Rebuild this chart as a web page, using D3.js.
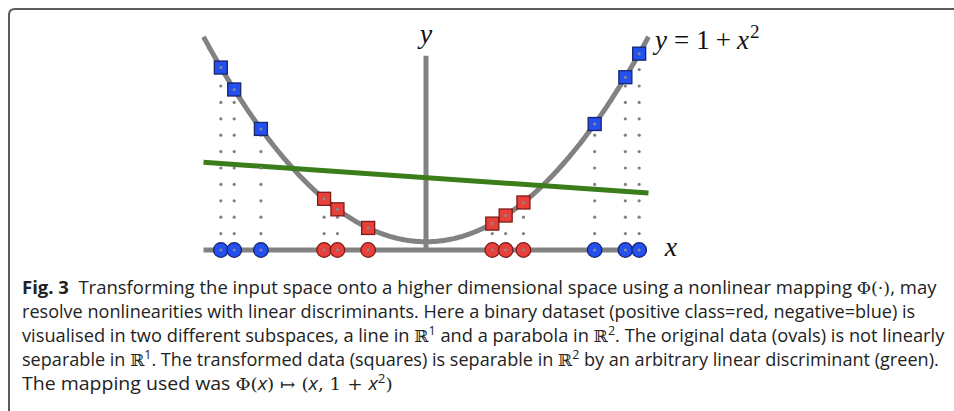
<!DOCTYPE html>
<html>
<head>
<meta charset="utf-8">
<script src="https://cdn.jsdelivr.net/npm/d3@7"></script>
<style>
  html, body { margin: 0; padding: 0; background: #fff; }
  svg { display: block; }
</style>
</head>
<body>
<svg id="fig" width="954" height="411"></svg>
<script>
// data
const negX = [-4.61, -4.31, -3.71, 3.79, 4.48, 4.79];   // blue, negative class
const posX = [-2.29, -1.99, -1.30, 1.49, 1.79, 2.19];   // red, positive class
const greenX = [-5, 5];
const greenY = [10.7, 6.95];
const dotStep = 2;   // spacing of the dotted projection lines, in y units

const captionLines = [
  [{ t: 'Fig. 3', b: true }, { t: 'Transforming the input space onto a higher dimensional space using a nonlinear mapping ', dx: 9 }, { t: 'Φ(·)', m: true }, { t: ', may' }],
  [{ t: 'resolve nonlinearities with linear discriminants. Here a binary dataset (positive class=red, negative=blue) is' }],
  [{ t: 'visualised in two different subspaces, a line in ' }, { t: 'ℝ', m: true }, { t: '1', sup: true }, { t: ' and a parabola in ' }, { t: 'ℝ', m: true }, { t: '2', sup: true }, { t: '. The original data (ovals) is not linearly' }],
  [{ t: 'separable in ' }, { t: 'ℝ', m: true }, { t: '1', sup: true }, { t: '. The transformed data (squares) is separable in ' }, { t: 'ℝ', m: true }, { t: '2', sup: true }, { t: ' by an arbitrary linear discriminant (green).' }],
  [{ t: 'The mapping used was ' }, { t: 'Φ(', m: true }, { t: 'x', i: true }, { t: ') ↦ (', m: true }, { t: 'x', i: true }, { t: ', 1 + ', m: true }, { t: 'x', i: true }, { t: '2', sup: true }, { t: ')', m: true }]
];
const captionRight = [937, 916, 945, 940, 393];

const svg = d3.select('#fig');
const grey = '#828282';

// frame
svg.append('path')
  .attr('d', 'M9,411 L9,15 Q9,9 15,9 L954,9')
  .attr('fill', 'none')
  .attr('stroke', '#5a5a5a')
  .attr('stroke-width', 2);

const xScale = d3.scaleLinear().domain([-5, 5]).range([203.5, 648.5]);
const yScale = d3.scaleLinear().domain([0, 26]).range([250, 36.8]);
const f = x => 1 + x * x;

const g = svg.append('g');

// axes
g.append('line')
  .attr('x1', xScale(-5)).attr('x2', xScale(4.95))
  .attr('y1', yScale(0)).attr('y2', yScale(0))
  .attr('stroke', grey).attr('stroke-width', 5);
g.append('line')
  .attr('x1', xScale(0)).attr('x2', xScale(0))
  .attr('y1', yScale(0)).attr('y2', yScale(23.7))
  .attr('stroke', grey).attr('stroke-width', 5);

// parabola
const curve = d3.range(-5, 5.001, 0.05);
g.append('path')
  .datum(curve)
  .attr('d', d3.line().x(d => xScale(d)).y(d => yScale(f(d))))
  .attr('fill', 'none')
  .attr('stroke', grey)
  .attr('stroke-width', 5);

// discriminant
g.append('line')
  .attr('x1', xScale(greenX[0])).attr('y1', yScale(greenY[0]))
  .attr('x2', xScale(greenX[1])).attr('y2', yScale(greenY[1]))
  .attr('stroke', '#3b7d1b')
  .attr('stroke-width', 5);

const points = negX.map(x => ({ x, cls: 'neg' })).concat(posX.map(x => ({ x, cls: 'pos' })));
const fill = { neg: '#2450f0', pos: '#e8403a' };
const edge = { neg: '#17246e', pos: '#7e1a16' };

// dotted projections
const dots = [];
points.forEach(p => {
  for (let v = dotStep; v < f(p.x); v += dotStep) dots.push({ x: p.x, y: v });
});
g.selectAll('.pdot').data(dots).join('circle')
  .attr('class', 'pdot')
  .attr('cx', d => xScale(d.x)).attr('cy', d => yScale(d.y))
  .attr('r', 1.6).attr('fill', '#808080');

// squares on the parabola
const side = 13;
g.selectAll('.sq').data(points).join('rect')
  .attr('class', 'sq')
  .attr('x', d => xScale(d.x) - side / 2)
  .attr('y', d => yScale(f(d.x)) - side / 2)
  .attr('width', side).attr('height', side)
  .attr('fill', d => fill[d.cls])
  .attr('stroke', d => edge[d.cls])
  .attr('stroke-width', 1.3);

// ovals on the line
g.selectAll('.ov').data(points).join('circle')
  .attr('class', 'ov')
  .attr('cx', d => xScale(d.x)).attr('cy', yScale(0))
  .attr('r', 7.3)
  .attr('fill', d => fill[d.cls])
  .attr('stroke', d => edge[d.cls])
  .attr('stroke-width', 1.3);

// centre dots
g.selectAll('.cdot').data(points.flatMap(p => [{ x: p.x, y: 0 }, { x: p.x, y: f(p.x) }])).join('circle')
  .attr('class', 'cdot')
  .attr('cx', d => xScale(d.x)).attr('cy', d => yScale(d.y))
  .attr('r', 1.5).attr('fill', '#8a8a8a');

// axis labels
const mathFont = '"Liberation Serif", "DejaVu Serif", serif';
g.append('text')
  .attr('x', xScale(0)).attr('y', 43)
  .attr('text-anchor', 'middle')
  .attr('font-family', mathFont).attr('font-style', 'italic')
  .attr('font-size', 28).attr('fill', '#111')
  .text('y');
g.append('text')
  .attr('x', 671).attr('y', 256)
  .attr('text-anchor', 'middle')
  .attr('font-family', mathFont).attr('font-style', 'italic')
  .attr('font-size', 28).attr('fill', '#111')
  .text('x');

const eq = g.append('text')
  .attr('x', 655).attr('y', 49)
  .attr('font-family', mathFont).attr('font-size', 27).attr('fill', '#111');
eq.append('tspan').attr('font-style', 'italic').text('y');
eq.append('tspan').attr('dx', 7).text('=');
eq.append('tspan').attr('dx', 7).text('1');
eq.append('tspan').attr('dx', 6).text('+');
eq.append('tspan').attr('dx', 6).attr('font-style', 'italic').text('x');
eq.append('tspan').attr('dy', -11).attr('dx', 1).attr('font-size', 19).text('2');

// caption, each line squeezed to the width it has in the figure
const cap = svg.append('g')
  .attr('font-family', '"Open Sans", "Noto Sans", sans-serif')
  .attr('font-size', 17.5)
  .attr('fill', '#222');

captionLines.forEach((segs, i) => {
  const txt = cap.append('text').attr('x', 0).attr('y', 0);
  let raised = false;
  segs.forEach(s => {
    const ts = txt.append('tspan').text(s.t);
    if (s.b) ts.attr('font-weight', 'bold');
    if (s.m) ts.attr('font-family', '"DejaVu Serif", serif').attr('font-size', 16.5);
    if (s.i) ts.attr('font-style', 'italic');
    if (s.dx) ts.attr('dx', s.dx);
    if (s.sup) { ts.attr('dy', -7).attr('font-size', 12); raised = true; }
    else if (raised) { ts.attr('dy', 7); raised = false; }
  });
  txt.style('white-space', 'pre');
  const w = txt.node().getBBox().width;
  const sx = (captionRight[i] - 22) / w;
  txt.attr('transform', `translate(22,${294 + i * 24}) scale(${sx},1)`);
});
</script>
</body>
</html>
